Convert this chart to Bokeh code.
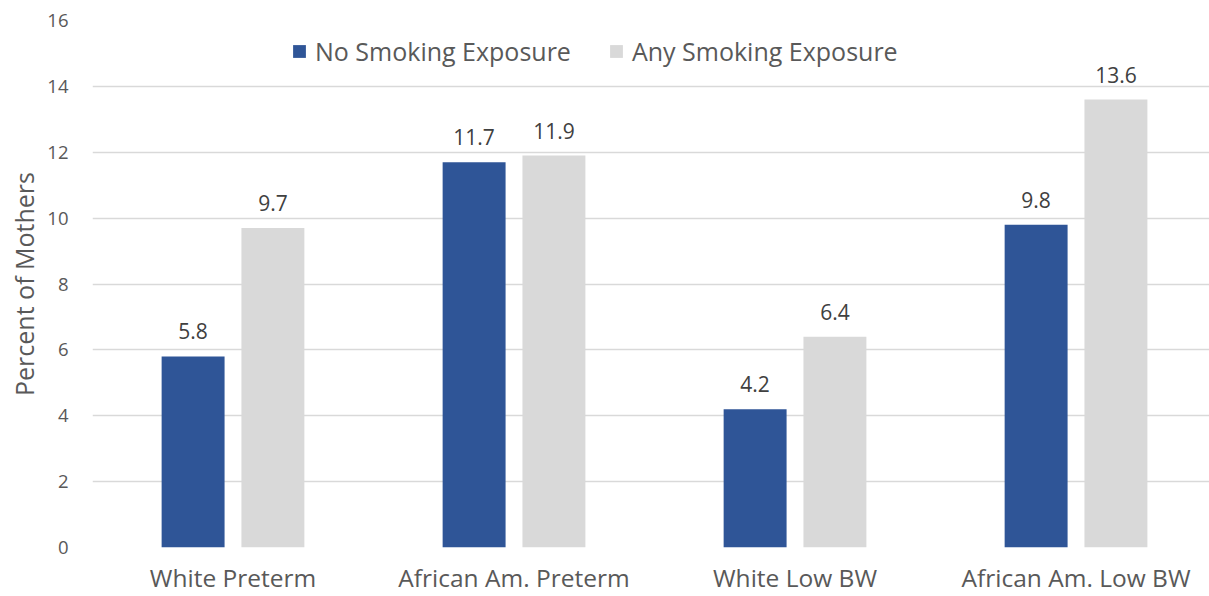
from bokeh.plotting import figure
from bokeh.models import ColumnDataSource, FixedTicker, Legend, LegendItem, LabelSet, Range1d
from bokeh.core.properties import value
from bokeh.embed import file_html
from bokeh.resources import INLINE

categories = ["White Preterm", "African Am. Preterm", "White Low BW", "African Am. Low BW"]
no_smoking = [5.8, 11.7, 4.2, 9.8]
any_smoking = [9.7, 11.9, 6.4, 13.6]
y_ticks = [0, 2, 4, 6, 8, 10, 12, 14, 16]
series_names = ["No Smoking Exposure", "Any Smoking Exposure"]

BLUE = "#2F5597"
GRAY = "#D9D9D9"
FONT = "Open Sans"

centers = [i + 0.5 for i in range(len(categories))]
off = 0.142
bw = 0.224

src_a = ColumnDataSource(dict(x=[c - off for c in centers], top=no_smoking,
                              lab=[f"{v:.1f}" for v in no_smoking]))
src_b = ColumnDataSource(dict(x=[c + off for c in centers], top=any_smoking,
                              lab=[f"{v:.1f}" for v in any_smoking]))

p = figure(width=1209, height=596, output_backend="svg", toolbar_location=None,
           x_range=Range1d(0, 3.975), y_range=Range1d(0, 16),
           min_border_left=92, min_border_right=0, min_border_top=20, min_border_bottom=48)
p.outline_line_color = None

ra = p.vbar(x="x", top="top", width=bw, bottom=0, source=src_a, fill_color=BLUE, line_color=None)
rb = p.vbar(x="x", top="top", width=bw, bottom=0, source=src_b, fill_color=GRAY, line_color=None)

for s in (src_a, src_b):
    p.add_layout(LabelSet(x="x", y="top", text="lab", source=s, text_align="center",
                          text_baseline="alphabetic", y_offset=17,
                          text_font=value(FONT), text_font_size=value("21px"),
                          text_color="#404040"))

# axes
p.xaxis.ticker = FixedTicker(ticks=centers)
p.xaxis.major_label_overrides = {c: n for c, n in zip(centers, categories)}
p.xaxis.axis_line_color = None
p.xaxis.major_tick_line_color = None
p.xaxis.minor_tick_line_color = None
p.xaxis.major_label_standoff = 7
p.xaxis.major_label_text_font = FONT
p.xaxis.major_label_text_font_size = "24.5px"
p.xaxis.major_label_text_color = "#595959"

p.yaxis.ticker = FixedTicker(ticks=y_ticks)
p.yaxis.axis_line_color = None
p.yaxis.major_tick_line_color = None
p.yaxis.minor_tick_line_color = None
p.yaxis.major_label_standoff = 18
p.yaxis.major_label_text_font = FONT
p.yaxis.major_label_text_font_size = "18.5px"
p.yaxis.major_label_text_color = "#595959"
p.yaxis.axis_label = "Percent of Mothers"
p.yaxis.axis_label_text_font = FONT
p.yaxis.axis_label_text_font_size = "25px"
p.yaxis.axis_label_text_font_style = "normal"
p.yaxis.axis_label_text_color = "#595959"
p.yaxis.axis_label_standoff = 3

p.xgrid.grid_line_color = None
p.ygrid.grid_line_color = "#D9D9D9"
p.ygrid.grid_line_width = 1.5

legend = Legend(items=[LegendItem(label=series_names[0], renderers=[ra]),
                       LegendItem(label=series_names[1], renderers=[rb])],
                orientation="horizontal", location=(199, 479),
                glyph_width=16, glyph_height=16, label_standoff=8, spacing=37,
                padding=0, margin=0, border_line_color=None, background_fill_alpha=0,
                label_text_font=FONT, label_text_font_size="25px", label_text_color="#595959")
p.add_layout(legend)

open("out.html", "w").write(file_html(p, INLINE))
